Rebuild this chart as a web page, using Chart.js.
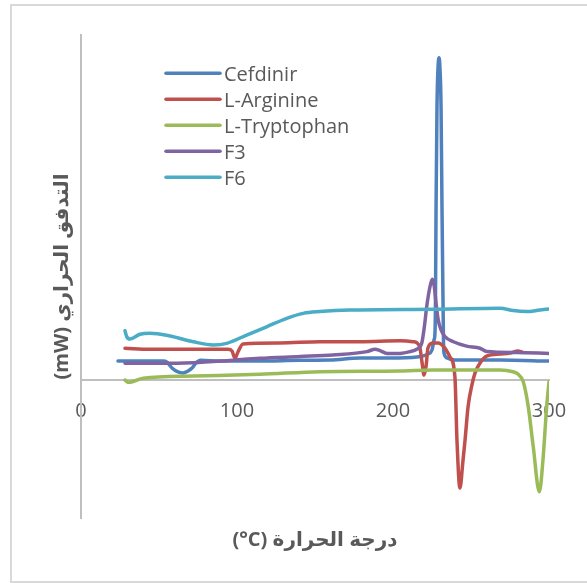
<!DOCTYPE html>
<html>
<head>
<meta charset="utf-8">
<script src="https://cdn.jsdelivr.net/npm/chart.js@4/dist/chart.umd.min.js"></script>
<style>
  html, body { margin: 0; padding: 0; background: #ffffff; }
  canvas { display: block; }
</style>
</head>
<body>
<canvas id="dsc" width="587" height="583"></canvas>
<script>
// DSC thermograms: heat flow (mW) against temperature (°C)
const seriesNames = ['Cefdinir', 'L-Arginine', 'L-Tryptophan', 'F3', 'F6'];
const seriesColors = ['#4F81BD', '#C0504D', '#9BBB59', '#8064A2', '#4BACC6'];
const xTicks = [0, 100, 200, 300];

const cefdinirTemp = [23.7, 37.8, 52.6, 55.1, 58.3, 62.2, 65.4, 68.6, 71.2, 73.7, 75.6, 76.5, 89.1, 114.7, 140.4, 159.6, 178.8, 198.1, 215.4, 222.4, 225.0, 226.3, 226.9, 227.2, 227.6, 228.2, 228.8, 229.5, 230.1, 230.8, 231.4, 232.1, 232.4, 232.7, 234.6, 239.7, 268.6, 300];
const cefdinirFlow = [0.96, 0.96, 0.96, 0.91, 0.61, 0.41, 0.36, 0.46, 0.61, 0.86, 0.98, 1.0, 0.96, 0.96, 1.0, 1.01, 1.12, 1.12, 1.17, 1.32, 1.52, 2.03, 2.38, 3.70, 8.78, 13.85, 15.73, 16.34, 15.83, 13.85, 8.78, 3.70, 1.78, 1.37, 1.12, 1.01, 1.01, 0.96];

const arginineTemp = [28.2, 44.2, 76.3, 94.2, 96.8, 98.7, 100.6, 103.8, 127.6, 153.2, 178.8, 204.5, 212.8, 215.4, 217.3, 218.6, 219.9, 221.2, 222.4, 225.6, 228.8, 233.3, 236.5, 239.7, 241.0, 242.9, 244.9, 246.2, 248.1, 250.6, 252.6, 255.8, 260.3, 268.6, 275.0, 280.1, 282.7];
const arginineFlow = [1.61, 1.56, 1.56, 1.56, 1.47, 1.10, 1.42, 1.83, 1.88, 1.94, 1.94, 1.99, 1.94, 1.88, 1.62, 0.90, 0.25, 0.70, 1.62, 1.88, 1.88, 1.62, 1.17, 0.15, -3.04, -5.48, -4.06, -3.04, -1.37, -0.25, 0.36, 0.86, 1.22, 1.32, 1.37, 1.47, 1.42];

const tryptophanTemp = [28.2, 30.3, 39.9, 72.0, 114.7, 153.2, 204.5, 225.6, 268.6, 276.9, 280.1, 283.5, 286.7, 289.9, 293.8, 296.3, 298.5, 300];
const tryptophanFlow = [0.0, -0.12, 0.09, 0.20, 0.29, 0.42, 0.46, 0.51, 0.51, 0.42, 0.30, -0.09, -1.35, -3.38, -5.67, -3.89, -1.35, -0.09];

const f3Temp = [28.2, 50.6, 71.8, 93.6, 114.7, 140.4, 161.5, 183.3, 188.5, 191.7, 196.2, 204.5, 210.9, 215.2, 218.4, 220.1, 221.6, 223.7, 225.2, 226.5, 227.6, 229.0, 230.8, 233.3, 238.7, 247.2, 255.8, 260.1, 279.3, 300];
const f3Flow = [0.85, 0.85, 0.88, 0.98, 1.10, 1.19, 1.27, 1.44, 1.56, 1.49, 1.35, 1.35, 1.44, 1.56, 1.86, 2.70, 3.72, 4.73, 5.11, 4.73, 3.89, 3.04, 2.54, 2.20, 1.94, 1.72, 1.61, 1.44, 1.39, 1.35];

const f6Temp = [28.2, 29.3, 31.4, 37.8, 44.2, 57.1, 72.0, 84.8, 93.4, 106.2, 119.0, 131.9, 142.5, 153.2, 172.4, 225.8, 268.6, 277.1, 285.7, 294.2, 300];
const f6Flow = [2.50, 2.20, 2.08, 2.32, 2.37, 2.23, 1.94, 1.78, 1.86, 2.28, 2.70, 3.13, 3.38, 3.47, 3.55, 3.59, 3.64, 3.52, 3.47, 3.55, 3.60];

const temps = [cefdinirTemp, arginineTemp, tryptophanTemp, f3Temp, f6Temp];
const flows = [cefdinirFlow, arginineFlow, tryptophanFlow, f3Flow, f6Flow];

const datasets = seriesNames.map((name, i) => ({
  label: name,
  data: temps[i].map((t, k) => ({ x: t, y: flows[i][k] })),
  borderColor: seriesColors[i],
  backgroundColor: seriesColors[i],
  borderWidth: 3.5,
  borderCapStyle: 'round',
  borderJoinStyle: 'round',
  pointRadius: 0,
  cubicInterpolationMode: 'monotone',
  fill: false,
  order: seriesNames.length - i
}));

const textGrey = '#595959';
const axisGrey = '#BFBFBF';
const captionFont = { family: "'Open Sans', 'DejaVu Sans', sans-serif", size: 20, weight: 'bold' };

// outer frame around the whole figure
const framePlugin = {
  id: 'frame',
  beforeDraw(chart) {
    const ctx = chart.ctx;
    ctx.save();
    ctx.fillStyle = '#ffffff';
    ctx.fillRect(0, 0, chart.width, chart.height);
    ctx.strokeStyle = '#D9D9D9';
    ctx.lineWidth = 2;
    ctx.strokeRect(11, 5, chart.width + 10, chart.height - 6);
    ctx.restore();
  }
};

// vertical legend placed inside the plot
const insideLegend = {
  id: 'insideLegend',
  afterDatasetsDraw(chart, args, opts) {
    const ctx = chart.ctx;
    ctx.save();
    ctx.font = opts.font;
    ctx.fillStyle = opts.color;
    ctx.textBaseline = 'alphabetic';
    ctx.textAlign = 'left';
    chart.data.datasets.forEach((ds, i) => {
      const y = opts.top + i * opts.spacing;
      ctx.strokeStyle = ds.borderColor;
      ctx.lineWidth = 3.5;
      ctx.lineCap = 'round';
      ctx.beginPath();
      ctx.moveTo(opts.left, y);
      ctx.lineTo(opts.left + opts.lineLength, y);
      ctx.stroke();
      ctx.fillText(ds.label, opts.left + opts.lineLength + 4, y + 7.2);
    });
    ctx.restore();
  }
};

new Chart(document.getElementById('dsc'), {
  type: 'line',
  data: { datasets },
  plugins: [framePlugin, insideLegend],
  options: {
    responsive: false,
    animation: false,
    devicePixelRatio: 1,
    layout: { padding: { left: 0, right: 38, top: 35, bottom: 0 } },
    plugins: {
      legend: { display: false },
      tooltip: { enabled: false },
      title: {
        display: true,
        position: 'bottom',
        fullSize: false,
        text: '(°C) درجة الحرارة',
        color: textGrey,
        font: captionFont,
        padding: { top: 10, bottom: 31 }
      },
      insideLegend: {
        left: 166, top: 73.3, spacing: 26, lineLength: 54,
        font: "20px 'Open Sans', sans-serif", color: textGrey
      }
    },
    scales: {
      x: {
        type: 'linear',
        position: { y: 0 },
        min: 0, max: 300,
        afterBuildTicks(scale) { scale.ticks = xTicks.map(v => ({ value: v })); },
        grid: { display: false, drawTicks: false },
        border: { display: true, color: axisGrey, width: 2 },
        ticks: {
          color: textGrey,
          padding: 19,
          font: { family: "'Open Sans', sans-serif", size: 20 }
        }
      },
      y: {
        type: 'linear',
        position: 'left',
        min: -7, max: 17.5,
        grid: { display: false, drawTicks: false },
        border: { display: true, color: axisGrey, width: 2 },
        ticks: { display: false },
        afterFit(scale) { scale.width = 81; },
        title: {
          display: true,
          text: '(mW) التدفق الحراري',
          color: textGrey,
          font: captionFont,
          padding: { top: 50, bottom: 0 }
        }
      }
    }
  }
});
</script>
</body>
</html>
